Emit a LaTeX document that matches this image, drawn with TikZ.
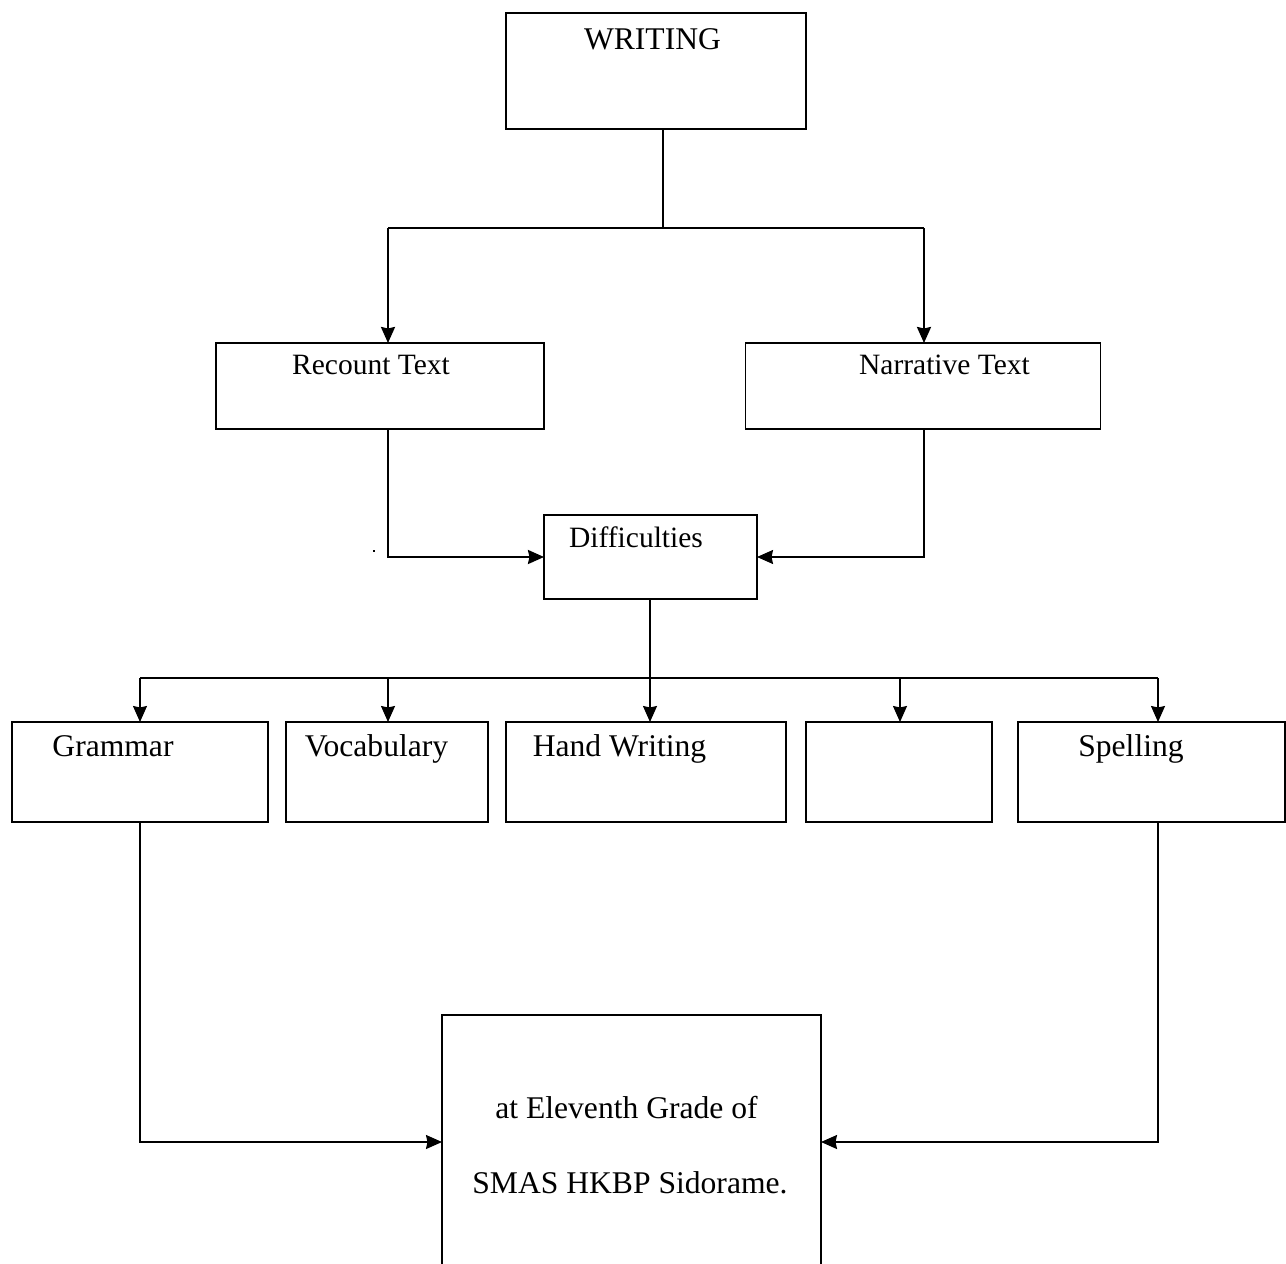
\documentclass[tikz,border=0pt]{standalone}
\usepackage{fontspec}
\setmainfont{Liberation Serif}
\usetikzlibrary{arrows.meta}
\tikzset{
  box/.style={draw, line width=1.5pt, rectangle, inner sep=0pt, outer sep=0pt},
  lbl/.style={anchor=base, inner sep=0pt, font=\fontsize{29.5}{34}\selectfont},
  biglbl/.style={lbl, font=\fontsize{31.6}{36}\selectfont},
  conn/.style={line width=1.6pt},
  thick conn/.style={line width=2.3pt},
  arr/.style={-{Stealth[length=16pt,width=14pt,inset=1.5pt]}},
}
\begin{document}
\begin{tikzpicture}[x=1pt,y=-1pt]
\useasboundingbox (0,0) rectangle (1286,1264);
% boxes
\node[box, minimum width=300, minimum height=116] (writing) at (656,71) {};
\node[box, minimum width=328, minimum height=86] (recount) at (380,386) {};
\node[box, minimum width=355, minimum height=86] (narrative) at (923,386) {};
\node[box, minimum width=213, minimum height=84] (diff) at (650.5,557) {};
\node[box, minimum width=256, minimum height=100] (grammar) at (140,772) {};
\node[box, minimum width=202, minimum height=100] (vocab) at (387,772) {};
\node[box, minimum width=280, minimum height=100] (hand) at (646,772) {};
\node[box, minimum width=186, minimum height=100] (empty) at (899,772) {};
\node[box, minimum width=267, minimum height=100] (spelling) at (1151.5,772) {};
\node[box, minimum width=379, minimum height=270] (final) at (631.5,1150) {};
% labels
\node[biglbl] (writingT) at (652.5,49) {WRITING};
\node[lbl] (recountT) at (371,374) {Recount Text};
\node[lbl] (narrativeT) at (944.5,374) {Narrative Text};
\node[lbl] (diffT) at (636,547) {Difficulties};
\node[biglbl] (grammarT) at (113,756) {Grammar};
\node[biglbl] (vocabT) at (376.5,756) {Vocabulary};
\node[biglbl] (handT) at (619.5,756) {Hand Writing};
\node[biglbl] (spellingT) at (1131,756) {Spelling};
\node[biglbl] (finalT1) at (626.5,1118) {at Eleventh Grade of};
\node[biglbl] (finalT2) at (630,1193) {SMAS HKBP Sidorame.};
% small dot
\node[fill, inner sep=0pt, minimum size=2.2pt] (dot) at (374,551) {};
% helper coordinates
\coordinate (hub1) at (663,228);
\coordinate (c1) at (388,228);
\coordinate (c2) at (924,228);
\coordinate (hub2) at (650,678);
\coordinate (d1) at (140,678);
\coordinate (d2) at (388,678);
\coordinate (d4) at (900,678);
\coordinate (d5) at (1158,678);
\coordinate (g1) at (140,1142);
\coordinate (s1) at (1158,1142);
% connectors
\draw[conn] (writing.south -| hub1) -- (hub1);
\draw[thick conn] (c1) -- (c2);
\draw[thick conn, arr] (c1) -- (c1 |- recount.north);
\draw[thick conn, arr] (c2) -- (c2 |- narrative.north);
\draw[thick conn, arr] (recount.south -| c1) -- (c1 |- diff.west) -- (diff.west);
\draw[conn, arr] (narrative.south -| c2) -- (c2 |- diff.east) -- (diff.east);
\draw[conn] (diff.south -| hub2) -- (hub2);
\draw[conn] (d1) -- (d5);
\draw[conn, arr] (d1) -- (d1 |- grammar.north);
\draw[conn, arr] (d2) -- (d2 |- vocab.north);
\draw[conn, arr] (hub2) -- (hub2 |- hand.north);
\draw[conn, arr] (d4) -- (d4 |- empty.north);
\draw[conn, arr] (d5) -- (d5 |- spelling.north);
\draw[conn, arr] (grammar.south -| g1) -- (g1) -- (g1 -| final.west);
\draw[conn, arr] (spelling.south -| s1) -- (s1) -- (s1 -| final.east);
\end{tikzpicture}
\end{document}
